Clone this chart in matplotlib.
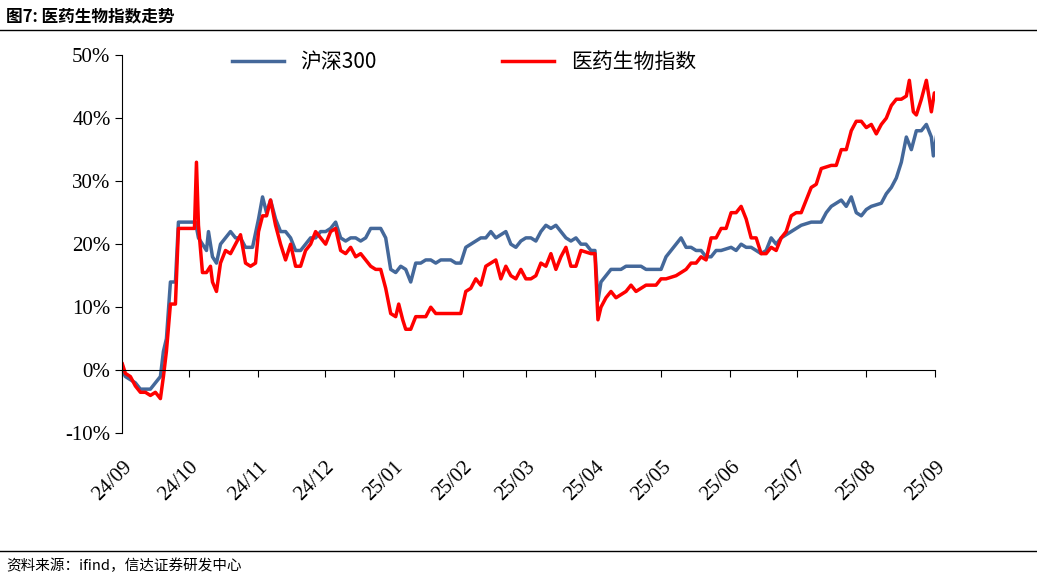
import matplotlib
matplotlib.use("Agg")
import matplotlib.pyplot as plt
import numpy as np
import datetime as dt
import matplotlib.dates as mdates

plt.rcParams['font.family'] = ['Liberation Serif', 'Noto Sans CJK SC']

# time step t (one unit ~ 0.45 calendar days from 2024-09-01)
hs_t = [0,3,13,18,28,33,38,41,44,48,53,56,68,73,76,80,84,86,90,94,98,103,108,113,118,123,130,136,140,144,148,153,158,163,168,173,178,183,188,193,198,203,208,213,218,223,228,233,238,243,248,253,258,263,268,273,278,283,288,293,298,303,308,313,318,323,328,333,338,343,348,353,358,363,368,373,378,383,388,393,398,403,408,413,418,423,428,433,438,443,448,453,458,463,468,472,475,478,483,488,498,503,508,518,523,538,543,548,553,558,563,568,573,578,583,588,593,598,608,613,618,623,628,633,638,643,648,653,658,668,673,678,688,698,703,708,713,718,723,728,733,738,743,748,758,763,768,773,778,783,788,793,798,803,808,810,813]
hs_v = [0,-1,-2,-3,-3,-2,-1,3,5,14,14,23.5,23.5,23.5,21,20,19,22,18,17,20,21,22,21,21,19.5,19.5,24,27.5,25,27,24,22,22,21,19,19,20,21,21,22,22,22.5,23.5,21,20.5,21,21,20.5,21,22.5,22.5,22.5,21,16,15.5,16.5,16,14,17,17,17.5,17.5,17,17.5,17.5,17.5,17,17,19.5,20,20.5,21,21,22,21,21.5,22,20,19.5,20.5,21,21,20.5,22,23,22.5,23,22,21,20.5,21,20,20,19,19,11,14,15,16,16,16.5,16.5,16.5,16,16,18,19,20,21,19.5,19.5,19,19,18,18,19,19,19.5,19,20,19.5,19.5,19,18.5,19,21,20,21,22,22.5,23,23.5,23.5,25,26,26.5,27,26,27.5,25,24.5,25.5,26,26.5,28,29,30.5,33,37,35,38,38,39,37,34,37]

yy_t = [0,3,8,13,18,23,28,33,38,41,44,48,53,56,68,72,74,76,80,84,88,90,94,98,103,108,113,118,123,128,133,136,140,144,148,153,158,163,168,173,178,183,188,193,198,203,208,213,218,223,228,233,238,243,248,253,258,263,268,273,276,280,283,288,293,298,303,308,313,318,338,343,348,353,358,363,368,373,378,383,388,393,398,403,408,413,418,423,428,433,438,443,448,453,458,468,472,475,478,483,488,493,498,503,508,513,518,523,533,538,543,553,558,563,568,573,578,583,588,593,598,603,608,613,618,623,628,633,638,643,648,653,658,663,668,673,678,683,688,693,698,708,713,718,723,728,733,738,743,748,753,758,763,768,773,778,783,786,790,793,798,803,808,811,813]
yy_v = [1,-0.5,-1,-2.5,-3.5,-3.5,-4,-3.5,-4.5,-1,3,10.5,10.5,22.5,22.5,22.5,33,23,15.5,15.5,16.5,14,12.5,17,19,18.5,20,21.5,17,16.5,17,22,24.5,24.5,27,23,20,17.5,20,16.5,16.5,19,20,22,21,20,22,22.5,19,18.5,19.5,18,18.5,17.5,16.5,16,16,13,9,8.5,10.5,8,6.5,6.5,8.5,8.5,8.5,10,9,9,9,12.5,13,14.5,13.5,16.5,17,17.5,14.5,16.5,15,14.5,16,14.5,14.5,15,17,16.5,18.5,16,18,19.5,16.5,16.5,19,18.5,18.5,8,10,11.5,12.5,11.5,12,12.5,13.5,12.5,13,13.5,13.5,14.5,14.5,15,15.5,16,17,17,18,17.5,21,21,22.5,22.5,25,25,26,24,21,21,18.5,18.5,19.5,19,21,22,24.5,25,25,27,29,29.5,32,32.5,32.5,35,35,38,39.5,39.5,38.5,39,37.5,39,40,42,43,43,43.5,46,41,40.5,43,46,41,44,44]

tick_labels = ['24/09','24/10','24/11','24/12','25/01','25/02','25/03','25/04','25/05','25/06','25/07','25/08','25/09']

start = dt.datetime(2024, 9, 1)
to_date = lambda ts: [start + dt.timedelta(days=t * 365.0 / 812) for t in ts]

fig = plt.figure(figsize=(10.37, 5.8), dpi=100)
ax = fig.add_axes([0.118, 0.253, 0.784, 0.652])
ax.plot(to_date(hs_t), hs_v, color='#44689A', lw=2.5, label='沪深300')
ax.plot(to_date(yy_t), yy_v, color='#FF0000', lw=2.5, label='医药生物指数')

ax.set_ylim(-10, 50)
ax.set_yticks(range(-10, 51, 10))
ax.set_yticklabels([f'{v}%' for v in range(-10, 51, 10)])
ticks = [dt.datetime(2024 + (8 + i) // 12, (8 + i) % 12 + 1, 1) for i in range(13)]
ax.set_xlim(ticks[0], ticks[-1])
ax.xaxis.set_major_locator(matplotlib.ticker.FixedLocator(mdates.date2num(ticks)))
ax.xaxis.set_major_formatter(matplotlib.ticker.FixedFormatter(tick_labels))
ax.spines['bottom'].set_position(('data', 0))
ax.spines['top'].set_visible(False)
ax.spines['right'].set_visible(False)
ax.tick_params(axis='x', direction='out', length=5, pad=58, labelsize=15, labelrotation=45)
ax.tick_params(axis='y', direction='out', length=5, labelsize=15)
for lab in ax.get_xticklabels():
    lab.set_ha('right'); lab.set_va('top'); lab.set_rotation_mode('anchor')
leg = ax.legend(loc='upper center', ncol=2, frameon=False, bbox_to_anchor=(0.42, 1.06),
                prop={'family': ['Noto Sans CJK SC'], 'size': 15}, columnspacing=6, handlelength=2.5)

fig.text(0.006, 0.972, '图7: 医药生物指数走势', fontsize=12, fontweight='bold', family=['Noto Sans CJK SC'], va='center')
fig.add_artist(plt.Line2D([0, 1], [0.948, 0.948], color='black', lw=1))
fig.add_artist(plt.Line2D([0, 1], [0.05, 0.05], color='black', lw=1))
fig.text(0.006, 0.025, '资料来源：ifind，信达证券研发中心', fontsize=10.5, style='italic',
         family=['Noto Sans CJK SC'], va='center')
fig.savefig('out.png', dpi=100)
